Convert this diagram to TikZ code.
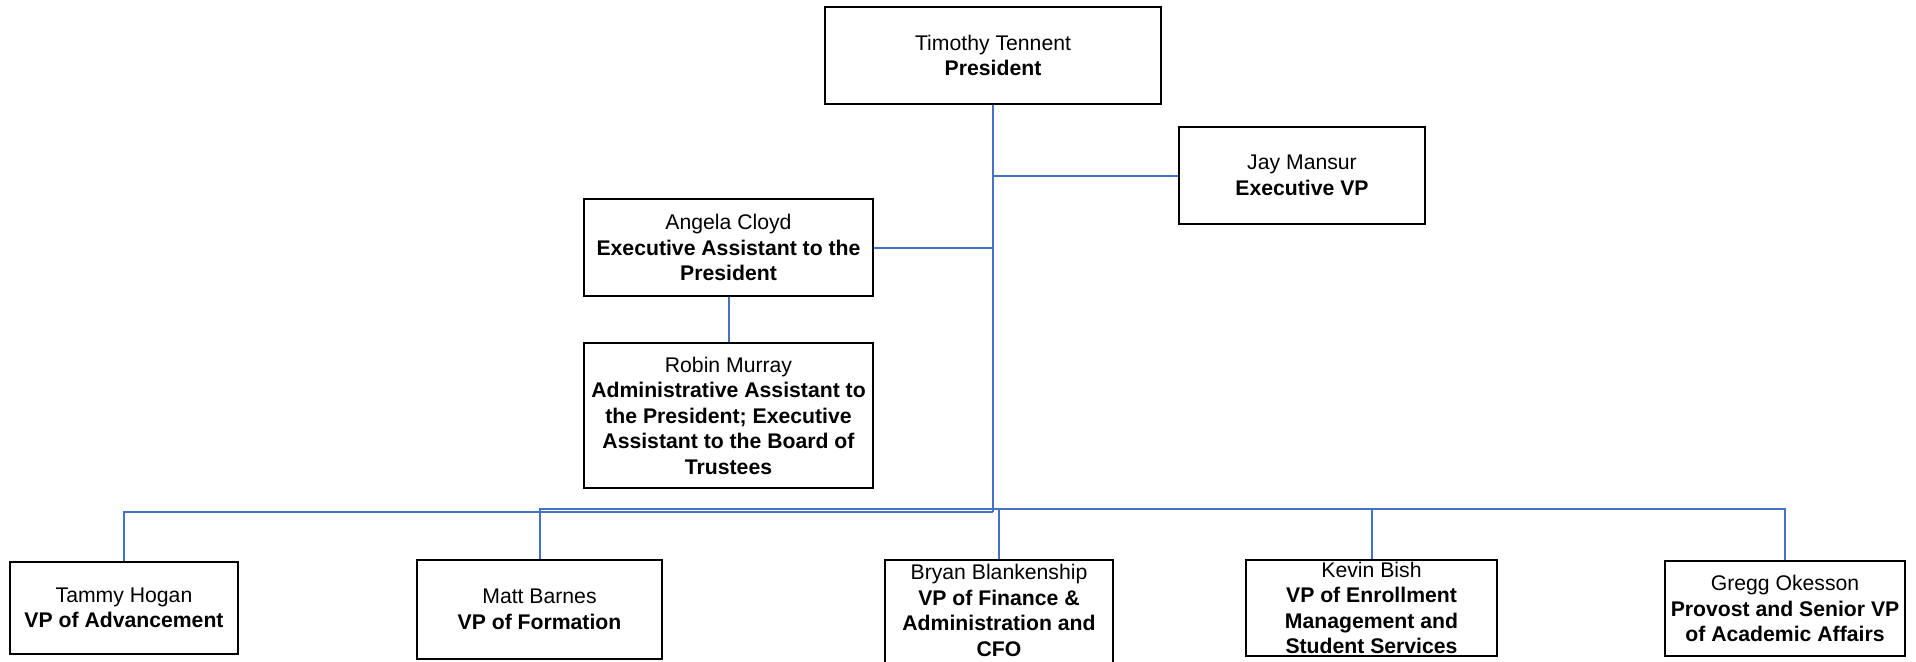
\documentclass[tikz,border=0pt]{standalone}
\usepackage{fontspec}
\setmainfont{Liberation Sans}
\definecolor{linkblue}{RGB}{68,114,196}
\tikzset{
  box/.style={draw=black, line width=2.5pt, fill=white, inner sep=0pt},
  txt/.style={inner sep=0pt, align=center, font=\fontsize{21.2}{25.5}\selectfont},
  conn/.style={draw=linkblue, line width=2pt}
}
\begin{document}
\begin{tikzpicture}[x=1pt, y=-1pt]
\useasboundingbox (0,0) rectangle (1916,661);
% boxes
\node[box, minimum width=336pt, minimum height=97pt] (pres) at (993,55.5) {};
\node[box, minimum width=246pt, minimum height=97pt] (jay) at (1302,175.5) {};
\node[box, minimum width=289pt, minimum height=97pt] (angela) at (728.5,247.5) {};
\node[box, minimum width=289pt, minimum height=145pt] (robin) at (728.5,415.5) {};
\node[box, minimum width=228pt, minimum height=92pt] (tammy) at (124,608) {};
\node[box, minimum width=245pt, minimum height=99pt] (matt) at (539.5,609.5) {};
\node[box, minimum width=228pt, minimum height=104pt] (bryan) at (999,612) {};
\node[box, minimum width=251pt, minimum height=96pt] (kevin) at (1371.5,608) {};
\node[box, minimum width=240pt, minimum height=95pt] (gregg) at (1785,608.5) {};
% texts
\node[txt] (pres-t) at (pres) {Timothy Tennent\\\textbf{President}};
\node[txt] (jay-t) at (jay) {Jay Mansur\\\textbf{Executive VP}};
\node[txt] (angela-t) at (angela) {Angela Cloyd\\\textbf{Executive Assistant to the}\\\textbf{President}};
\node[txt] (robin-t) at (robin) {Robin Murray\\\textbf{Administrative Assistant to}\\\textbf{the President; Executive}\\\textbf{Assistant to the Board of}\\\textbf{Trustees}};
\node[txt] (tammy-t) at (tammy) {Tammy Hogan\\\textbf{VP of Advancement}};
\node[txt] (matt-t) at (matt) {Matt Barnes\\\textbf{VP of Formation}};
\node[txt] (bryan-t) at (999,610.5) {Bryan Blankenship\\\textbf{VP of Finance \&}\\\textbf{Administration and}\\\textbf{CFO}};
\node[txt] (kevin-t) at (kevin) {Kevin Bish\\\textbf{VP of Enrollment}\\\textbf{Management and}\\\textbf{Student Services}};
\node[txt] (gregg-t) at (gregg) {Gregg Okesson\\\textbf{Provost and Senior VP}\\\textbf{of Academic Affairs}};
% junction coordinates
\coordinate (trunkend) at (993,512);
\coordinate (bus) at (993,509);
% connectors
\draw[conn] (pres.south) -- (trunkend);
\draw[conn] (jay.west) -- (jay.west -| pres.south);
\draw[conn] (angela.east) -- (angela.east -| pres.south);
\draw[conn] (angela.south) -- (robin.north);
\draw[conn] (tammy.north) |- (trunkend);
\draw[conn] (matt.north) |- (bus) -| (gregg.north);
\draw[conn] (bryan.north) -- (bryan.north |- bus);
\draw[conn] (kevin.north) -- (kevin.north |- bus);
\end{tikzpicture}
\end{document}
